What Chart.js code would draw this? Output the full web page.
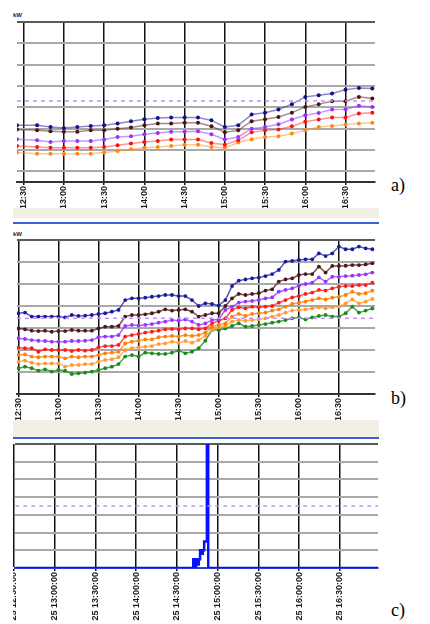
<!DOCTYPE html>
<html>
<head>
<meta charset="utf-8">
<script src="https://cdn.jsdelivr.net/npm/chart.js@4.4.0/dist/chart.umd.min.js"></script>
<style>
    body { margin: 0; background: #fff; width: 430px; height: 624px; position: relative; overflow: hidden; font-family: "Liberation Sans", Arial, sans-serif; }
    canvas { position: absolute; left: 13px; }
    .band { position: absolute; left: 13px; width: 366px; background: #f2efe6; }
    .sep { position: absolute; left: 13px; width: 366px; height: 2px; background: #3a62d4; }
    .unit { position: absolute; left: 13px; font-size: 6px; font-weight: bold; color: #223; line-height: 6px; }
    .tag { position: absolute; left: 391px; font-family: "Liberation Serif", "Times New Roman", serif; font-size: 18px; color: #000; }
</style>
</head>
<body>
<div class="unit" style="top:12px">kW</div>
<canvas id="chartA" width="366" height="208" style="top:0px"></canvas>
<div class="band" style="top:208px;height:10px"></div>
<div class="sep" style="top:222px"></div>
<div class="unit" style="top:231px">kW</div>
<canvas id="chartB" width="366" height="196" style="top:224px"></canvas>
<div class="band" style="top:420px;height:17px"></div>
<div class="sep" style="top:437px"></div>
<canvas id="chartC" width="366" height="184" style="top:440px"></canvas>
<div class="tag" style="top:175px">a)</div>
<div class="tag" style="top:388px">b)</div>
<div class="tag" style="top:600px">c)</div>

<script>
// ---- datos ----
const ticksHoras = ["12:30", "13:00", "13:30", "14:00", "14:30", "15:00", "15:30", "16:00", "16:30"];

// panel a) muestras cada 10 min
const aHoras = ["12:25", "12:40", "12:50", "13:00", "13:10", "13:20", "13:30", "13:40", "13:50", "14:00", "14:10", "14:20", "14:30", "14:40",
    "14:50", "15:00", "15:10", "15:20", "15:30", "15:40", "15:50", "16:00", "16:10", "16:20", "16:30", "16:40", "16:50"];
const aNavy = [31.6, 31.6, 30.8, 30.3, 30.8, 31.3, 31.6, 32.4, 33.5, 34.4, 35.0, 35.2, 35.2, 35.2, 33.9, 30.8, 31.6, 36.6, 37.5, 39.0, 41.5, 44.9, 45.7, 46.5, 48.3, 49.1, 48.8];
const aBrown = [29.6, 29.2, 28.8, 28.5, 28.5, 29.2, 29.2, 30.0, 30.5, 31.6, 32.4, 32.4, 32.8, 32.8, 31.1, 28.3, 29.2, 33.5, 34.4, 35.5, 37.5, 40.2, 41.5, 42.9, 42.9, 44.9, 44.1];
const aPurple = [25.0, 24.6, 23.8, 24.2, 24.2, 24.2, 24.9, 26.1, 26.4, 27.4, 28.0, 28.5, 28.5, 28.8, 27.4, 24.9, 26.1, 30.0, 30.8, 32.1, 34.3, 36.3, 37.4, 39.0, 39.1, 40.7, 40.2];
const aRed = [21.9, 21.4, 21.0, 21.0, 21.0, 21.0, 21.4, 22.2, 23.0, 23.8, 24.2, 24.9, 24.9, 24.9, 23.3, 22.5, 24.6, 28.3, 29.2, 29.6, 31.1, 33.2, 34.3, 35.2, 35.2, 37.1, 37.5];
const aOrange = [18.8, 18.3, 18.3, 18.3, 18.3, 18.3, 18.8, 19.5, 20.3, 21.0, 21.4, 21.9, 22.5, 22.5, 21.4, 21.0, 23.5, 25.0, 26.1, 26.4, 27.7, 29.2, 30.8, 31.3, 31.9, 32.4, 32.8];
const aLimite = 43;
const aRango = ["12:25", "16:52"];

// panel b) muestras cada 5 min
const bHoras = ["12:30", "12:35", "12:40", "12:45", "12:50", "12:55", "13:00", "13:05", "13:10", "13:15", "13:20", "13:25", "13:30", "13:35",
    "13:40", "13:45", "13:50", "13:55", "14:00", "14:05", "14:10", "14:15", "14:20", "14:25", "14:30", "14:35", "14:40", "14:45", "14:50",
    "14:55", "15:00", "15:05", "15:10", "15:15", "15:20", "15:25", "15:30", "15:35", "15:40", "15:45", "15:50", "15:55", "16:00", "16:05",
    "16:10", "16:15", "16:20", "16:25", "16:30", "16:35", "16:40", "16:45", "16:50", "16:55"];
const bNavy = [46.7, 47.0, 45.2, 45.2, 45.2, 45.2, 45.2, 44.8, 45.9, 45.5, 45.6, 45.9, 46.4, 46.7, 47.4, 48.2, 52.7, 53.5, 53.5, 53.8, 54.2, 54.5, 55.0, 55.0, 54.5, 54.5, 52.7,
    50.0, 51.2, 50.9, 50.2, 52.7, 59.1, 61.5, 62.1, 62.6, 62.9, 63.6, 64.5, 66.4, 70.2, 70.5, 70.9, 71.2, 71.2, 73.9, 72.7, 73.9, 77.0, 75.8, 75.8, 77.0, 76.2, 75.8];
const bBrown = [39.8, 39.4, 38.8, 38.6, 38.8, 38.3, 38.6, 38.6, 39.1, 38.8, 38.8, 38.8, 39.8, 40.6, 40.6, 40.9, 45.2, 45.9, 45.9, 46.2, 46.7, 47.4, 48.5, 47.9, 48.2, 48.5, 47.4,
    45.2, 45.9, 46.7, 46.7, 50.0, 53.5, 55.5, 55.0, 55.5, 55.8, 57.0, 57.6, 61.1, 62.1, 62.6, 64.1, 64.5, 64.5, 67.9, 65.2, 68.2, 68.2, 68.3, 68.6, 68.6, 68.9, 69.4];
const bPurple = [35.3, 35.0, 34.5, 34.2, 34.1, 33.8, 33.8, 33.8, 34.1, 34.1, 34.2, 34.5, 35.8, 36.1, 36.1, 36.8, 40.9, 41.4, 41.1, 41.4, 41.8, 42.4, 42.9, 43.6, 43.3, 43.9, 42.9,
    41.4, 42.1, 43.6, 44.0, 48.2, 49.7, 51.5, 52.0, 52.3, 52.7, 53.5, 53.9, 56.5, 57.3, 58.0, 59.2, 60.0, 60.6, 63.0, 61.1, 63.3, 63.3, 63.6, 63.8, 64.1, 64.4, 65.2];
const bRed = [31.1, 30.8, 30.8, 29.2, 30.3, 30.0, 30.0, 30.0, 29.5, 30.0, 29.7, 30.0, 31.2, 31.8, 31.8, 32.3, 36.1, 36.8, 37.3, 37.9, 38.3, 38.8, 39.4, 39.5, 39.4, 39.8, 39.8,
    39.4, 39.8, 42.1, 43.3, 44.4, 48.2, 49.4, 48.9, 49.7, 49.4, 49.7, 50.0, 51.5, 52.7, 53.9, 54.5, 55.5, 56.1, 57.3, 57.0, 58.0, 58.8, 59.1, 59.1, 59.5, 59.5, 60.6];
const bOrange = [27.7, 28.0, 27.0, 26.7, 27.0, 27.0, 27.0, 26.2, 27.0, 26.7, 27.0, 27.0, 27.7, 28.5, 28.8, 29.2, 33.0, 33.8, 34.2, 34.8, 34.8, 35.8, 36.1, 36.4, 36.1, 36.8, 36.4,
    36.8, 37.9, 40.6, 41.4, 42.1, 45.2, 46.4, 45.5, 46.4, 46.7, 47.0, 47.9, 48.5, 49.7, 50.9, 51.5, 52.0, 52.7, 53.5, 53.0, 53.8, 54.2, 55.0, 56.5, 55.5, 55.8, 57.0];
const bLightOrange = [24.7, 25.2, 24.2, 23.6, 23.9, 23.9, 23.9, 22.4, 23.2, 23.2, 23.6, 23.6, 24.7, 25.5, 25.8, 26.7, 30.0, 30.8, 31.2, 31.5, 31.8, 32.7, 33.0, 33.8, 33.3, 34.1, 33.3,
    34.5, 36.4, 39.1, 40.3, 40.9, 42.9, 43.6, 43.3, 43.6, 43.9, 44.4, 45.2, 45.9, 47.0, 47.9, 48.2, 48.5, 48.9, 49.4, 48.9, 49.4, 49.7, 51.2, 53.0, 51.2, 52.0, 53.2];
const bGreen = [21.7, 22.4, 21.7, 20.6, 21.2, 20.2, 20.9, 20.6, 19.1, 19.4, 19.7, 20.2, 20.9, 21.7, 22.4, 23.6, 27.0, 27.7, 27.0, 28.8, 28.5, 28.2, 28.2, 28.8, 29.7, 28.5, 29.2,
    30.8, 34.2, 39.1, 39.1, 39.8, 40.9, 42.1, 40.6, 40.9, 41.4, 41.8, 42.4, 42.9, 43.6, 44.4, 44.8, 43.9, 44.8, 45.5, 45.9, 45.2, 45.2, 46.7, 49.7, 47.0, 47.9, 48.9];
const bLimite = 44.4;
const bRango = ["12:29", "16:57"];

// panel c)
const cHoras = ["12:31", "14:42", "14:43", "14:44", "14:45", "14:46", "14:47", "14:48", "14:49", "14:50", "14:52", "14:53", "16:58"];
const cValores = [0, 5, 0, 5, 2, 5, 10, 8, 10, 15, 120, 0, 0];
const cLimite = 35;
const cRango = ["12:31", "16:58"];

// ---- utilidades ----
function aMinutos(h) {
    const p = h.split(":");
    return parseInt(p[0]) * 60 + parseInt(p[1]);
}
function aHora(m) {
    const h = Math.floor(m / 60), mm = Math.round(m % 60);
    return h + ":" + (mm < 10 ? "0" : "") + mm;
}
function serie(horas, valores, linea, punto, radio) {
    return {
        data: horas.map((h, i) => ({ x: aMinutos(h), y: valores[i] })),
        borderColor: linea,
        borderWidth: 1.5,
        pointBackgroundColor: punto,
        pointBorderWidth: 0,
        pointRadius: radio,
        tension: 0
    };
}
function limite(rango, valor) {
    return {
        data: [{ x: aMinutos(rango[0]), y: valor }, { x: aMinutos(rango[1]), y: valor }],
        borderColor: "#c390ff",
        borderWidth: 1.5,
        borderDash: [4, 4],
        pointRadius: 0
    };
}
function opciones(rango, yMin, yMax, yTicks, alturaEje, arriba, formato, colorEje) {
    return {
        responsive: false,
        animation: false,
        layout: { padding: { top: arriba, left: 0, right: 1, bottom: 0 } },
        plugins: { legend: { display: false }, tooltip: { enabled: false } },
        scales: {
            x: {
                type: "linear",
                min: aMinutos(rango[0]),
                max: aMinutos(rango[1]),
                afterBuildTicks: s => { s.ticks = ticksHoras.map(h => ({ value: aMinutos(h) })); },
                afterFit: s => { s.height = alturaEje; },
                ticks: {
                    autoSkip: false, minRotation: 90, maxRotation: 90, padding: 1,
                    color: "#1a1a1a",
                    font: { family: "Liberation Sans", size: 9, weight: "bold" },
                    callback: v => formato(v)
                },
                grid: { color: "#111", lineWidth: 1.5, tickLength: 3 },
                border: { color: colorEje, width: 2 }
            },
            y: {
                min: yMin,
                max: yMax,
                afterBuildTicks: s => { s.ticks = yTicks.map(v => ({ value: v })); },
                afterFit: s => { s.width = 0; },
                ticks: { display: false },
                grid: {
                    color: c => c.tick.value === yMax ? "#5a5a5a" : "#a9a9a9",
                    lineWidth: 2,
                    drawTicks: false
                },
                border: { display: false }
            }
        }
    };
}

// a)
new Chart(document.getElementById("chartA").getContext("2d"), {
    type: "line",
    data: {
        datasets: [
            limite(aRango, aLimite),
            serie(aHoras, aNavy, "rgba(60,60,160,0.6)", "#12128a", 2),
            serie(aHoras, aBrown, "rgba(110,60,60,0.6)", "#4a1515", 2),
            serie(aHoras, aPurple, "rgba(160,80,255,0.6)", "#9a30ff", 2),
            serie(aHoras, aRed, "rgba(255,60,60,0.55)", "#ff1010", 2),
            serie(aHoras, aOrange, "rgba(255,150,60,0.55)", "#ff8a10", 2)
        ]
    },
    options: opciones(aRango, 5, 80, [10, 20, 30, 40, 50, 60, 70, 80], 26, 22, aHora, "#333")
});

// b)
new Chart(document.getElementById("chartB").getContext("2d"), {
    type: "line",
    data: {
        datasets: [
            limite(bRango, bLimite),
            serie(bHoras, bNavy, "rgba(40,40,170,0.8)", "#1a1a9a", 1.9),
            serie(bHoras, bBrown, "rgba(90,30,30,0.8)", "#4a1a1a", 1.9),
            serie(bHoras, bPurple, "rgba(160,60,255,0.8)", "#9933ff", 1.9),
            serie(bHoras, bRed, "rgba(255,40,40,0.8)", "#ff1a1a", 1.9),
            serie(bHoras, bOrange, "rgba(255,130,20,0.8)", "#ff7f00", 1.9),
            serie(bHoras, bLightOrange, "rgba(255,160,70,0.8)", "#ff9a33", 1.9),
            serie(bHoras, bGreen, "rgba(30,140,30,0.8)", "#1a8a1a", 1.9)
        ]
    },
    options: opciones(bRango, 10, 80, [20, 30, 40, 50, 60, 70, 80], 26, 16, aHora, "#333")
});

// c)
new Chart(document.getElementById("chartC").getContext("2d"), {
    type: "line",
    data: {
        datasets: [
            limite(cRango, cLimite),
            {
                data: cHoras.map((h, i) => ({ x: aMinutos(h), y: cValores[i] })),
                borderColor: "#0a10ff",
                borderWidth: 2.5,
                stepped: true,
                pointRadius: 0
            }
        ]
    },
    options: opciones(cRango, 0, 70, [10, 20, 30, 40, 50, 60, 70], 56, 4, v => "25 " + aHora(v) + ":00", "#2a3fcf")
});
</script>
</body>
</html>
